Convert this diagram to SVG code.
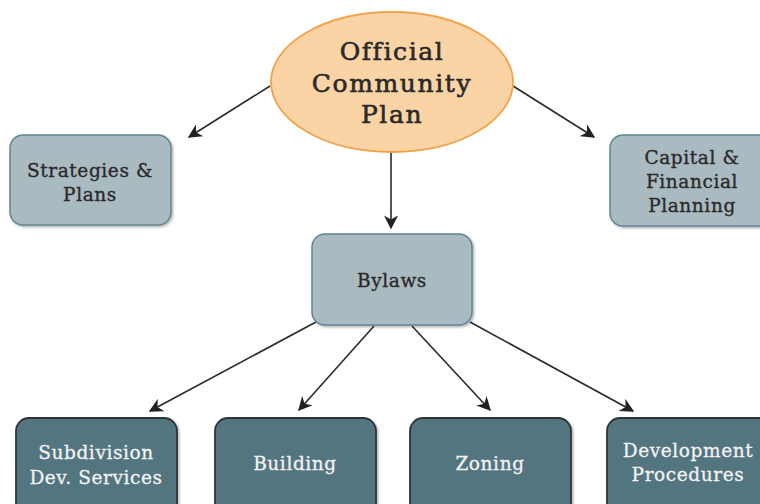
<svg xmlns="http://www.w3.org/2000/svg" width="760" height="504" viewBox="0 0 760 504">
  <defs>
    <marker id="arrowL" viewBox="0 0 10 10" refX="9" refY="5" markerWidth="14" markerHeight="14" markerUnits="userSpaceOnUse" orient="auto">
      <path d="M0,0 L10,5 L0,10 L3,5 z" fill="#222"/>
    </marker>
    <filter id="shadow" x="-10%" y="-10%" width="130%" height="130%">
      <feDropShadow dx="1.5" dy="1.5" stdDeviation="1" flood-color="#000" flood-opacity="0.3"/>
    </filter>
  </defs>
  <style>
    .light { fill: #aabac1; stroke: #5f8593; stroke-width: 1.5; filter: url(#shadow); }
    .dark { fill: #537480; stroke: #2e3538; stroke-width: 1.8; filter: url(#shadow); }
    .t { font-family: "DejaVu Serif", "Liberation Serif", serif; text-anchor: middle; font-size: 18.5px; letter-spacing: 0.6px; }
    .td { fill: #2a2a2a; stroke: #2a2a2a; stroke-width: 0.35px; }
    .tw { fill: #f2f2f2; stroke: #f2f2f2; stroke-width: 0.3px; }
    .big { font-size: 25px; letter-spacing: 1.6px; stroke-width: 0.6px; }
    .edge { stroke: #2a2a2a; stroke-width: 1.6; fill: none; marker-end: url(#arrowL); }
  </style>

  <rect width="760" height="504" fill="#ffffff"/>

  <g id="connectors">
    <line class="edge" x1="270" y1="86" x2="189" y2="137"/>
    <line class="edge" x1="513" y1="86" x2="594" y2="137"/>
    <line class="edge" x1="391" y1="152" x2="391" y2="228"/>
    <line class="edge" x1="316" y1="322" x2="150" y2="411"/>
    <line class="edge" x1="374" y1="326" x2="299" y2="410"/>
    <line class="edge" x1="412" y1="326" x2="490" y2="410"/>
    <line class="edge" x1="470" y1="322" x2="633" y2="411"/>
  </g>

  <g id="ocp">
    <ellipse cx="392" cy="82" rx="121" ry="70" fill="#fbd4a6" stroke="#f2a24a" stroke-width="1.8"/>
    <text class="t td big" x="392" y="60">Official</text>
    <text class="t td big" x="392" y="92">Community</text>
    <text class="t td big" x="392" y="123">Plan</text>
  </g>

  <g id="strategies">
    <rect class="light" x="10" y="135" width="161" height="90" rx="13"/>
    <text class="t td" x="90" y="177">Strategies &amp;</text>
    <text class="t td" x="90" y="201">Plans</text>
  </g>

  <g id="capital">
    <rect class="light" x="610" y="135" width="165" height="91" rx="13"/>
    <text class="t td" x="692" y="164">Capital &amp;</text>
    <text class="t td" x="692" y="188">Financial</text>
    <text class="t td" x="692" y="212">Planning</text>
  </g>

  <g id="bylaws">
    <rect class="light" x="312" y="234" width="160" height="91" rx="13"/>
    <text class="t td" x="392" y="287">Bylaws</text>
  </g>

  <g id="subdivision">
    <rect class="dark" x="16" y="418" width="161" height="100" rx="13"/>
    <text class="t tw" x="96" y="459">Subdivision</text>
    <text class="t tw" x="96" y="484">Dev. Services</text>
  </g>

  <g id="building">
    <rect class="dark" x="215" y="418" width="161" height="100" rx="13"/>
    <text class="t tw" x="295" y="470">Building</text>
  </g>

  <g id="zoning">
    <rect class="dark" x="410" y="418" width="161" height="100" rx="13"/>
    <text class="t tw" x="490" y="470">Zoning</text>
  </g>

  <g id="development">
    <rect class="dark" x="607" y="418" width="165" height="100" rx="13"/>
    <text class="t tw" x="688" y="457">Development</text>
    <text class="t tw" x="688" y="481">Procedures</text>
  </g>
</svg>
